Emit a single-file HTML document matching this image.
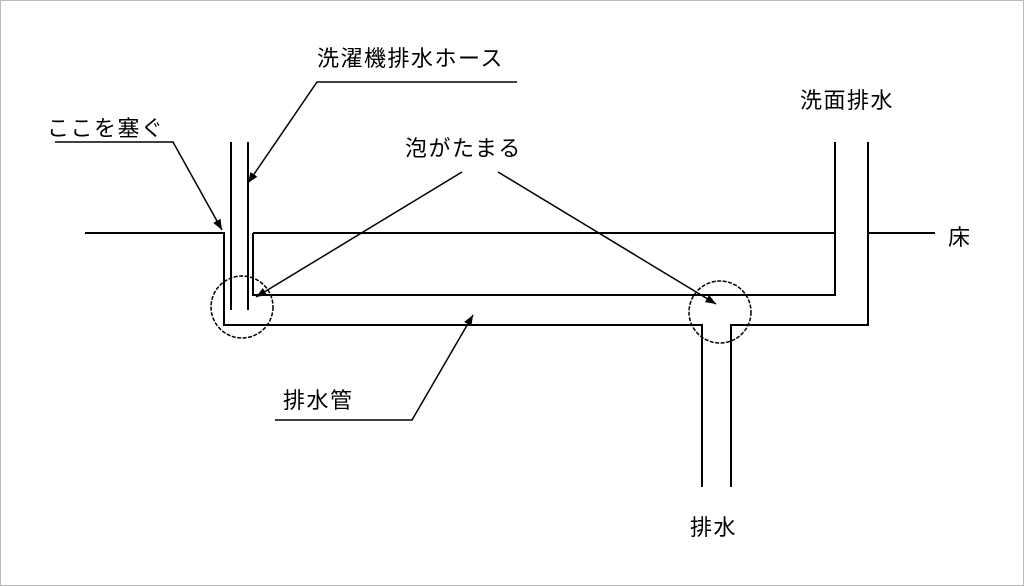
<!DOCTYPE html>
<html><head><meta charset="utf-8"><style>
html,body{margin:0;padding:0;background:#fff;}
svg{display:block}
text{font-family:"Liberation Sans","Noto Sans CJK JP",sans-serif;font-size:22px;letter-spacing:1.5px;fill:#000}
</style></head><body>
<svg width="1024" height="586" viewBox="0 0 1024 586" xmlns="http://www.w3.org/2000/svg">
<defs><marker id="a" viewBox="0 0 10 10" refX="10" refY="5" markerWidth="7" markerHeight="7" orient="auto"><path d="M0,1 L10,5 L0,9 z" fill="#000"/></marker></defs>
<rect x="0.5" y="0.5" width="1023" height="585" fill="none" stroke="#bbb"/>
<g stroke="#000" stroke-width="2" fill="none">
<polyline points="85,233 224,233 224,325 702,325 702,487"/>
<polyline points="253,233 253,295 835,295 835,142"/>
<polyline points="253,233 835,233"/>
<polyline points="731,487 731,325 868,325 868,142"/>
<line x1="868" y1="233" x2="935" y2="233"/>
<line x1="231" y1="142" x2="231" y2="310"/>
<line x1="248" y1="142" x2="248" y2="310"/>
</g>
<g stroke="#000" stroke-width="1.5" fill="none">
<circle cx="242" cy="307" r="31" stroke-dasharray="4,1.5"/>
<circle cx="720" cy="312" r="31" stroke-dasharray="4,1.5"/>
<polyline points="517,82 317,82 248,183" marker-end="url(#a)"/>
<polyline points="55,142 173,142 222,230" marker-end="url(#a)"/>
<line x1="462" y1="172" x2="256" y2="297" marker-end="url(#a)"/>
<line x1="498" y1="172" x2="716" y2="304" marker-end="url(#a)"/>
<polyline points="275,420 412,420 473,315" marker-end="url(#a)"/>
</g>
<text x="317" y="66">洗濯機排水ホース</text>
<text x="47" y="136">ここを塞ぐ</text>
<text x="405" y="156">泡がたまる</text>
<text x="800" y="108">洗面排水</text>
<text x="948" y="245">床</text>
<text x="283" y="408">排水管</text>
<text x="690" y="535">排水</text>
</svg>
</body></html>
